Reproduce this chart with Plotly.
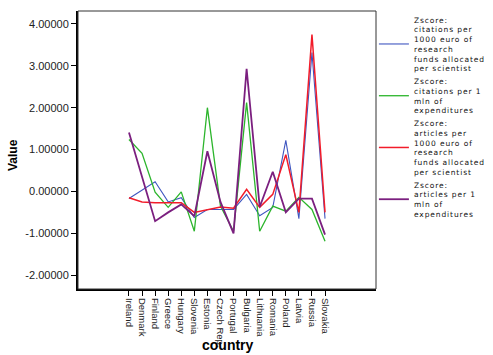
import plotly.graph_objects as go

countries = ["Ireland", "Denmark", "Finland", "Greece", "Hungary", "Slovenia", "Estonia",
             "Czech Rep.", "Portugal", "Bulgaria", "Lithuania", "Romania", "Poland",
             "Latvia", "Russia", "Slovakia"]

cit_per_1000_euro = [-0.17, 0.03, 0.23, -0.25, -0.15, -0.62, -0.43, -0.43, -0.43, -0.07,
                     -0.58, -0.38, 1.22, -0.65, 3.32, -0.65]
cit_per_1mln = [1.24, 0.91, -0.02, -0.38, -0.01, -0.95, 2.00, -0.35, -0.95, 2.12,
                -0.95, -0.35, -0.47, -0.14, -0.43, -1.19]
art_per_1000_euro = [-0.15, -0.25, -0.27, -0.27, -0.27, -0.50, -0.43, -0.37, -0.40, 0.05,
                     -0.38, -0.07, 0.88, -0.50, 3.75, -0.50]
art_per_1mln = [1.41, 0.35, -0.71, -0.50, -0.31, -0.59, 0.96, -0.25, -1.00, 2.93,
                -0.37, 0.47, -0.50, -0.17, -0.17, -1.03]

series_names = [
    "Zscore:<br>citations per<br>1000 euro of<br>research<br>funds allocated<br>per scientist",
    "Zscore:<br>citations per 1<br>mln of<br>expenditures",
    "Zscore:<br>articles per<br>1000 euro of<br>research<br>funds allocated<br>per scientist",
    "Zscore:<br>articles per 1<br>mln of<br>expenditures",
]
series_values = [cit_per_1000_euro, cit_per_1mln, art_per_1000_euro, art_per_1mln]
colors = ["#3f56c0", "#2cb52c", "#f21c2a", "#7b1f7f"]
widths = [1.1, 1.3, 1.5, 1.8]

y_tick_vals = [4, 3, 2, 1, 0, -1, -2]
y_tick_text = ["4.00000", "3.00000", "2.00000", "1.00000", "0.00000", "-1.00000", "-2.00000"]

fig = go.Figure()
for name, vals, c, w in zip(series_names, series_values, colors, widths):
    fig.add_trace(go.Scatter(x=countries, y=vals, mode="lines", name=name,
                             line=dict(color=c, width=w)))

axis_font = dict(family="Liberation Sans, Arial, sans-serif", size=11, color="#222")

fig.update_layout(
    width=493, height=355,
    margin=dict(l=78, r=117, t=11, b=66, autoexpand=False),
    paper_bgcolor="white", plot_bgcolor="white",
    showlegend=True,
    legend=dict(x=0.993, xanchor="left", y=1.01, yanchor="top", maxheight=340,
                font=dict(family="DejaVu Sans, sans-serif", size=7.5, color="#111"),
                bgcolor="rgba(0,0,0,0)", borderwidth=0, tracegroupgap=0),
    xaxis=dict(type="category", range=[-3.9, 18.9], showgrid=False, zeroline=False,
               showline=True, linecolor="black", linewidth=2,
               ticks="outside", ticklen=5, tickcolor="black", tickwidth=1,
               tickangle=90,
               tickfont=dict(family="Liberation Sans Narrow, Liberation Sans, Arial, sans-serif",
                             size=9.5, color="#222"),
               automargin=False, fixedrange=True),
    yaxis=dict(range=[-2.33, 4.31], showgrid=False, zeroline=False,
               showline=True, linecolor="black", linewidth=2,
               ticks="outside", ticklen=5, tickcolor="black", tickwidth=1,
               tickvals=y_tick_vals, ticktext=y_tick_text, tickfont=axis_font,
               automargin=False, fixedrange=True),
    shapes=[dict(type="rect", xref="paper", yref="paper", x0=0, x1=1, y0=0, y1=1,
                 line=dict(color="#333", width=1), fillcolor="rgba(0,0,0,0)", layer="above")],
    annotations=[
        dict(text="<b>Value</b>", xref="paper", yref="paper", x=-0.218, y=0.482,
             xanchor="center", yanchor="middle",
             textangle=-90, showarrow=False,
             font=dict(family="Liberation Sans, Arial, sans-serif", size=12, color="black")),
        dict(text="<b>country</b>", xref="paper", yref="paper", x=0.502, y=-0.203,
             xanchor="center", yanchor="middle",
             showarrow=False,
             font=dict(family="Liberation Sans, Arial, sans-serif", size=14, color="black")),
    ],
)

post = """
document.body.style.margin = '0';
document.body.style.padding = '0';
var s = document.createElement('style');
s.innerHTML = '.legendtext { letter-spacing: 0.9px; }';
document.head.appendChild(s);
document.querySelectorAll('.legend, .legend *').forEach(function (e) {
    e.removeAttribute('clip-path');
});
"""
fig.write_html("out.html", post_script=post, config={"displayModeBar": False})
